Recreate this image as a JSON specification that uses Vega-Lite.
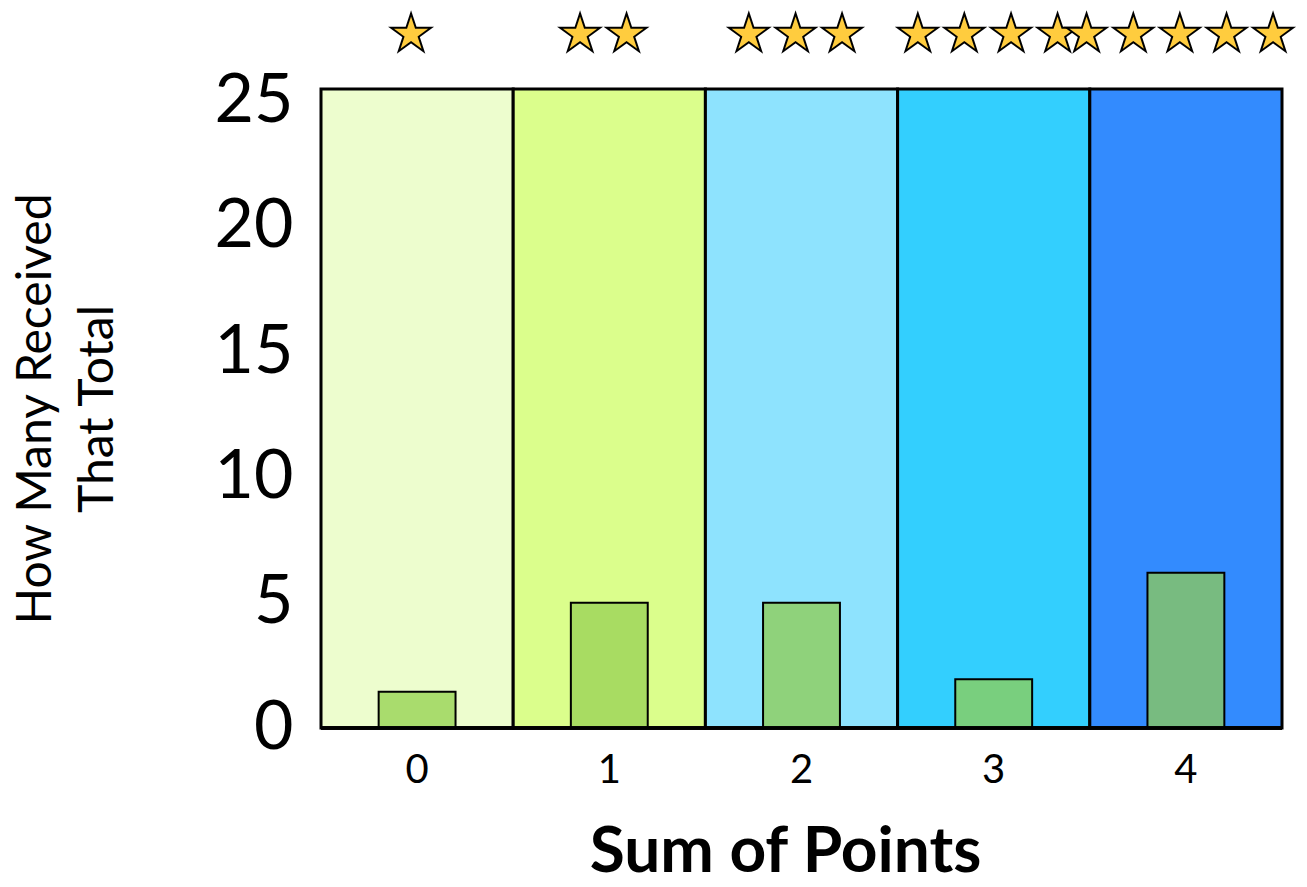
{
  "$schema": "https://vega.github.io/schema/vega-lite/v6.json",
  "width": 961,
  "height": 639,
  "autosize": "none",
  "padding": {"left": 321, "top": 89, "right": 25, "bottom": 159},
  "background": "white",
  "config": {"view": {"stroke": null}, "font": "Lato"},
  "data": {
    "values": [
      {"points": "0", "count": 1.45, "stars": "★"},
      {"points": "1", "count": 5.0, "stars": "★★"},
      {"points": "2", "count": 5.0, "stars": "★★★"},
      {"points": "3", "count": 1.95, "stars": "★★★★"},
      {"points": "4", "count": 6.2, "stars": "★★★★★"}
    ]
  },
  "resolve": {"scale": {"fill": "independent"}},
  "encoding": {
    "x": {
      "field": "points",
      "type": "ordinal",
      "sort": null,
      "scale": {"paddingInner": 0, "paddingOuter": 0},
      "axis": {
        "title": "Sum of Points",
        "titleFont": "Lato",
        "titleFontSize": 64,
        "titleFontWeight": "bold",
        "titleColor": "black",
        "titlePadding": 30,
        "titleX": 464,
        "labelFont": "Lato",
        "labelFontSize": 40,
        "labelColor": "black",
        "labelAngle": 0,
        "labelPadding": 22,
        "ticks": false,
        "domain": false
      }
    }
  },
  "layer": [
    {
      "mark": {"type": "bar", "stroke": "black", "strokeWidth": 3},
      "encoding": {
        "y": {"value": 0},
        "y2": {"value": "height"},
        "fill": {
          "field": "points",
          "type": "nominal",
          "scale": {"domain": ["0", "1", "2", "3", "4"], "range": ["#EDFDCE", "#DBFE8C", "#8EE3FE", "#33CFFE", "#338BFE"]},
          "legend": null
        }
      }
    },
    {
      "mark": {"type": "bar", "stroke": "black", "strokeWidth": 2, "width": {"band": 0.4}},
      "encoding": {
        "y": {
          "field": "count",
          "type": "quantitative",
          "scale": {"domain": [0, 25.5], "nice": false},
          "axis": {
            "title": ["How Many Received", "That Total"],
            "titleFont": "Lato",
            "titleFontSize": 48,
            "titleFontWeight": "normal",
            "titleColor": "black",
            "titleLineHeight": 62,
            "titlePadding": 92,
            "values": [0, 5, 10, 15, 20, 25],
            "labelFont": "Lato",
            "labelFontSize": 68,
            "labelColor": "black",
            "labelPadding": 28,
            "ticks": false,
            "domain": false,
            "grid": false
          }
        },
        "fill": {
          "field": "points",
          "type": "nominal",
          "scale": {"domain": ["0", "1", "2", "3", "4"], "range": ["#A9DC6D", "#A8DC62", "#8FD27B", "#79CF7E", "#78BB80"]},
          "legend": null
        }
      }
    },
    {
      "mark": {"type": "rule", "stroke": "black", "strokeWidth": 3},
      "encoding": {"x": {"value": 0}, "x2": {"value": "width"}, "y": {"value": "height"}}
    },
    {
      "mark": {"type": "text", "font": "DejaVu Sans", "fontSize": 52, "fill": "#FFCC3E", "stroke": "black", "strokeWidth": 2, "baseline": "middle", "align": "center", "dx": -6},
      "encoding": {
        "text": {"field": "stars"},
        "y": {"value": -54}
      }
    }
  ]
}
